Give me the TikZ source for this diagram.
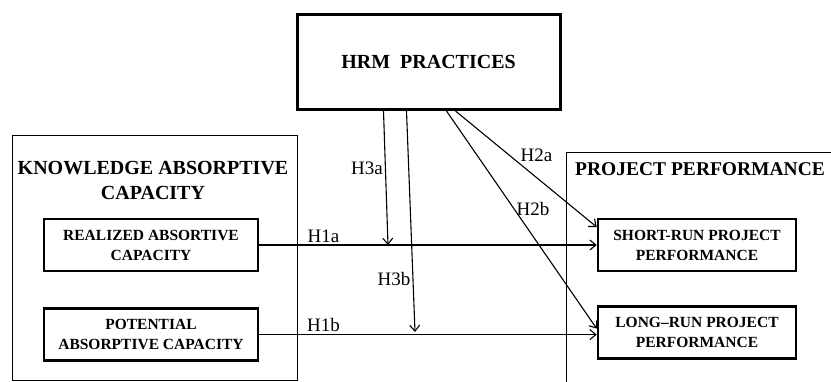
\documentclass[tikz,border=0pt]{standalone}
\usepackage{fontspec}
\setmainfont{Liberation Serif}
\usetikzlibrary{arrows.meta, positioning, calc}

\begin{document}
\begin{tikzpicture}[
  x=1pt, y=-1pt,
  box/.style={draw, line width=2.6pt, minimum width=214pt, minimum height=52pt,
              inner sep=0pt, align=center, font=\fontsize{15.5}{20}\selectfont\bfseries},
  frame/.style={draw, line width=1.1pt, inner sep=0pt},
  title/.style={align=center, inner sep=0pt, font=\fontsize{20}{25}\selectfont\bfseries},
  hyp/.style={font=\fontsize{19}{19}\selectfont, inner sep=2pt},
  arr/.style={-{Straight Barb[length=6pt, width=10pt]}, line width=1.1pt},
  node distance=35pt
]
  \useasboundingbox (0,0) rectangle (831,382);
  \clip (0,0) rectangle (831,382);

  % containers
  \node[frame, minimum width=285pt, minimum height=245pt, anchor=north west] (kac) at (12,135) {};
  \node[frame, minimum width=300pt, minimum height=260pt, anchor=north west] (pp) at (566,152) {};
  \node[title] (kactitle) at (153,180) {KNOWLEDGE ABSORPTIVE\\CAPACITY};
  \node[title, anchor=west, font=\fontsize{19.5}{24}\selectfont\bfseries] (pptitle) at (575,169)
       {PROJECT PERFORMANCE};

  \node[box, line width=3pt, minimum width=263pt, minimum height=95pt,
        font=\fontsize{20}{24}\selectfont\bfseries] (hrm) at (428.5,62) {HRM\ \ PRACTICES};
  \node[box] (rac) at (151,245) {REALIZED ABSORTIVE\\CAPACITY};
  \node[box, below=35pt of rac] (pac) {POTENTIAL\\ABSORPTIVE CAPACITY};
  \node[box, minimum width=198pt] (srp) at (697,245) {SHORT-RUN PROJECT\\PERFORMANCE};
  \node[box, minimum width=198pt, below=33pt of srp] (lrp) {LONG--RUN PROJECT\\PERFORMANCE};

  \coordinate (m1) at (388,245);
  \coordinate (m2) at (415,332);

  \draw[arr] (rac.east) -- node[hyp, pos=0.19, above] {H1a} (rac.east -| srp.west);
  \draw[arr] (pac.east) -- node[hyp, pos=0.19, above] {H1b} (pac.east -| lrp.west);
  \draw[arr] ([xshift=88pt]hrm.south west) -- node[hyp, pos=0.43, left] {H3a} (m1);
  \draw[arr] ([xshift=111pt]hrm.south west) -- node[hyp, pos=0.76, left] {H3b} (m2);
  \draw[arr] ([xshift=160pt]hrm.south west) --
             node[hyp, pos=0.45, above right, inner sep=1pt] {H2a} ([yshift=18pt]srp.west);
  \draw[arr] ([xshift=151pt]hrm.south west) --
             node[hyp, pos=0.45, right] {H2b} ([yshift=4pt]lrp.west);
\end{tikzpicture}
\end{document}
